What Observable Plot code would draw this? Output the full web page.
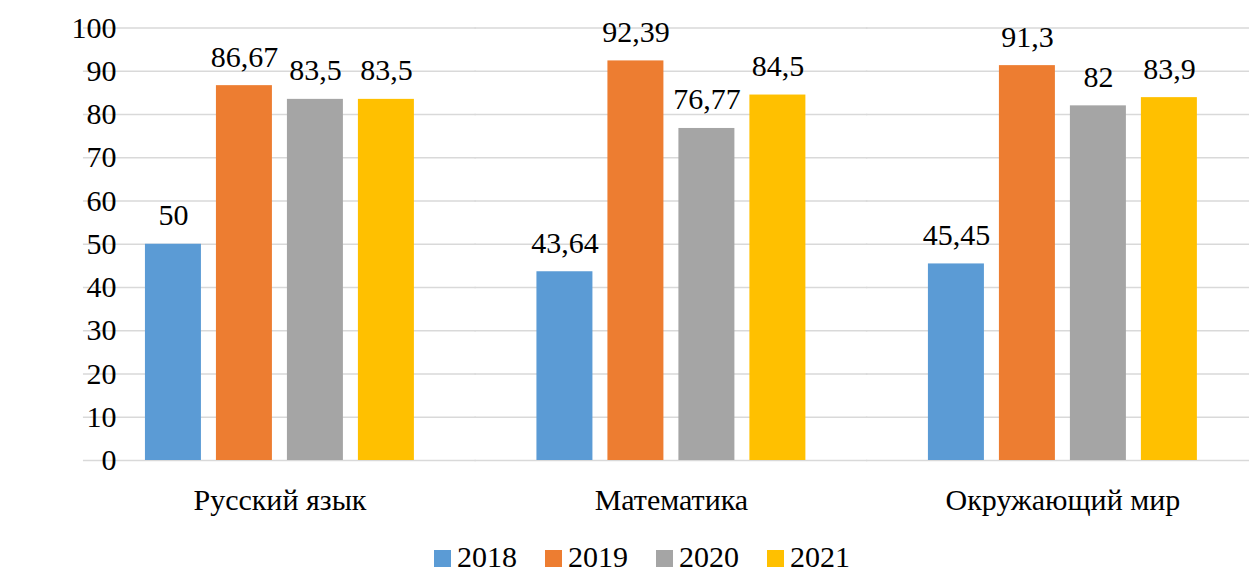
<!DOCTYPE html>
<html><head><meta charset="utf-8">
<script src="https://cdn.jsdelivr.net/npm/d3@7"></script>
<script src="https://cdn.jsdelivr.net/npm/@observablehq/plot@0.6"></script>
<style>
body{margin:0;background:#fff;overflow:hidden;font-family:'Liberation Serif',serif}
#legend{position:relative;height:30px;font-size:30px;line-height:30px;margin-top:17px;white-space:nowrap;color:#000}
.item{position:absolute;top:0}
.sw{display:inline-block;width:17px;height:17px;margin-right:6px}
</style></head><body>
<div id="chart"></div><div id="legend"></div>
<script>
const subjects = ["Русский язык", "Математика", "Окружающий мир"];
const years = ["2018", "2019", "2020", "2021"];
const values2018 = [50, 43.64, 45.45];
const values2019 = [86.67, 92.39, 91.3];
const values2020 = [83.5, 76.77, 82];
const values2021 = [83.5, 84.5, 83.9];
const colors = ["#5B9BD5", "#ED7D31", "#A5A5A5", "#FFC000"];
const yTicks = [0, 10, 20, 30, 40, 50, 60, 70, 80, 90, 100];

const series = [values2018, values2019, values2020, values2021];
const rows = [];
subjects.forEach((s, i) => years.forEach((y, j) => rows.push({subject: s, year: y, value: series[j][i]})));
const fmt = v => String(v).replace(".", ",");
const font = "'Liberation Serif', serif";

const chart = Plot.plot({
  width: 1249, height: 525,
  marginLeft: 84, marginRight: 0, marginTop: 27.5, marginBottom: 65,
  style: {fontFamily: font, fontSize: "30px", color: "#000", background: "#fff", overflow: "visible"},
  fx: {domain: subjects, paddingInner: 0.313, paddingOuter: 0.1444, align: 0.539, round: false, label: null},
  x: {domain: years, paddingInner: 0.2113, paddingOuter: 0, round: false, axis: null},
  y: {domain: [0, 100], axis: null},
  color: {domain: years, range: colors},
  marks: [
    Plot.ruleY(yTicks, {stroke: "#d9d9d9", strokeWidth: 1.5, insetLeft: -62, insetRight: -62}),
    Plot.barY(rows, {fx: "subject", x: "year", y: "value", fill: "year"}),
    Plot.text(rows, {fx: "subject", x: "year", y: "value", text: d => fmt(d.value), dy: -19, lineAnchor: "bottom", fill: "#000", fontSize: 30}),
    Plot.axisY(yTicks, {tickSize: 0, tickPadding: 29, fontSize: 30, label: null}),
    Plot.axisFx({anchor: "bottom", tickSize: 0, tickPadding: 28, fontSize: 30, label: null})
  ]
});
document.getElementById("chart").appendChild(chart);

const legend = document.getElementById("legend");
years.forEach((y, i) => {
  const it = document.createElement("span");
  it.className = "item";
  it.style.left = (434 + 111 * i) + "px";
  const sw = document.createElement("span");
  sw.className = "sw";
  sw.style.background = colors[i];
  it.appendChild(sw);
  it.appendChild(document.createTextNode(y));
  legend.appendChild(it);
});

const forceFont = () => {
  document.querySelectorAll("svg, svg g, svg text, svg tspan, #legend, .item").forEach(el => {
    el.style.setProperty("font-family", font, "important");
  });
};
forceFont();
</script>
</body></html>
